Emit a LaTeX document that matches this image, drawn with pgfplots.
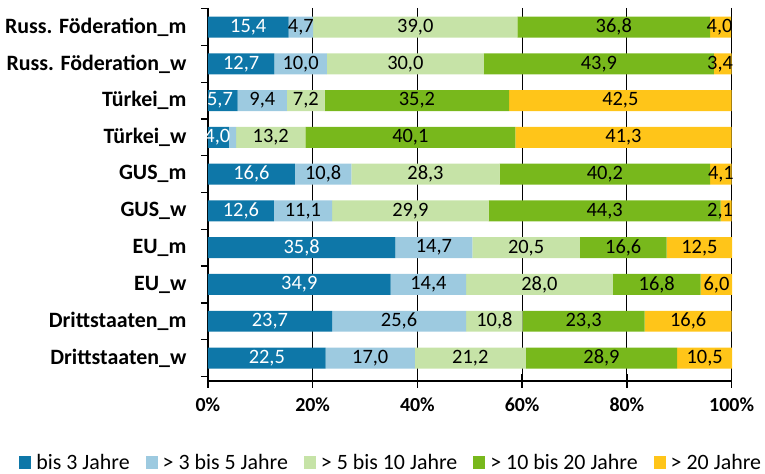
\documentclass[border=0pt]{standalone}
\usepackage{fontspec}
\setmainfont{Carlito}
\usepackage{pgfplots}
\pgfplotsset{compat=1.18}
\definecolor{c1}{HTML}{0E77A8}
\definecolor{c2}{HTML}{9DCAE0}
\definecolor{c3}{HTML}{C6E3A7}
\definecolor{c4}{HTML}{78B81C}
\definecolor{c5}{HTML}{FFC519}
\pgfplotsset{
  frame/.style={at={(0,0)}, anchor=south west, scale only axis,
    width=524bp, height=373bp, xmin=0, xmax=100,
    ymin=-0.52, ymax=9.62, y dir=reverse, clip=false,
    /pgf/number format/assume math mode=true},
  lbl/.style={draw=none, mark=none, forget plot, point meta=explicit,
    nodes near coords={\pgfmathprintnumber[use comma,fixed,fixed zerofill,precision=1]{\pgfplotspointmeta}},
    every node near coord/.append style={anchor=center, font=\fontsize{20.5}{22}\selectfont}},
}
\begin{document}
\begin{tikzpicture}
\begin{axis}[
  frame,
  xbar stacked, bar width=21bp,
  axis x line*=bottom, axis y line*=left,
  axis line style={line width=1.6bp},
  xtick={0,20,...,100},
  xticklabel={\bfseries\pgfmathprintnumber{\tick}\%},
  x tick label style={font=\fontsize{20}{22}\selectfont, yshift=-6bp},
  xtick align=center,
  major x tick style={line width=1.4bp, black},
  major tick length=14bp,
  xmajorgrids, major x grid style={line width=1.2bp, black},
  ytick={0,...,9},
  yticklabels={Russ. Föderation\_m, Russ. Föderation\_w, Türkei\_m, Türkei\_w, GUS\_m, GUS\_w, EU\_m, EU\_w, Drittstaaten\_m, Drittstaaten\_w},
  y tick label style={font=\fontsize{22}{24}\selectfont\bfseries, xshift=-4bp},
  major y tick style={draw=none},
  minor ytick={-0.5,0.5,...,9.5},
  minor y tick style={line width=1.4bp, black},
  minor tick length=7bp,
  ytick align=outside,
  legend columns=5,
  legend style={at={(0.349,-0.2185)}, anchor=center, draw=none,
    font=\fontsize{22}{24}\selectfont, nodes={inner sep=1bp},
    /tikz/every odd column/.append style={column sep=4bp},
    /tikz/every even column/.append style={column sep=15bp}},
  legend image code/.code={\fill[#1] (0bp,-6.5bp) rectangle (12bp,6.5bp);},
]
\addplot[fill=c1, draw=none] coordinates {
  (15.4,0) (12.7,1) (5.7,2) (4.0,3) (16.6,4) (12.6,5) (35.8,6) (34.9,7) (23.7,8) (22.5,9)};
\addplot[fill=c2, draw=none] coordinates {
  (4.7,0) (10.0,1) (9.4,2) (1.4,3) (10.8,4) (11.1,5) (14.7,6) (14.4,7) (25.6,8) (17.0,9)};
\addplot[fill=c3, draw=none] coordinates {
  (39.0,0) (30.0,1) (7.2,2) (13.2,3) (28.3,4) (29.9,5) (20.5,6) (28.0,7) (10.8,8) (21.2,9)};
\addplot[fill=c4, draw=none] coordinates {
  (36.8,0) (43.9,1) (35.2,2) (40.1,3) (40.2,4) (44.3,5) (16.6,6) (16.8,7) (23.3,8) (28.9,9)};
\addplot[fill=c5, draw=none] coordinates {
  (4.0,0) (3.4,1) (42.5,2) (41.3,3) (4.1,4) (2.1,5) (12.5,6) (6.0,7) (16.6,8) (10.5,9)};
\legend{bis 3 Jahre, > 3 bis 5 Jahre, > 5 bis 10 Jahre, > 10 bis 20 Jahre, > 20 Jahre}
\end{axis}
% value labels at the middle of each segment
\begin{axis}[frame, hide axis]
\addplot[lbl, every node near coord/.append style={text=white}] coordinates {
  (7.7,0) [15.4] (6.35,1) [12.7] (2.3,2) [5.7] (1.8,3) [4.0] (8.3,4) [16.6]
  (6.3,5) [12.6] (17.9,6) [35.8] (17.45,7) [34.9] (11.85,8) [23.7] (11.25,9) [22.5]};
\addplot[lbl] coordinates {
  (17.75,0) [4.7] (17.7,1) [10.0] (10.4,2) [9.4] (22.0,4) [10.8]
  (18.15,5) [11.1] (43.15,6) [14.7] (42.1,7) [14.4] (36.5,8) [25.6] (31.0,9) [17.0]};
\addplot[lbl] coordinates {
  (39.6,0) [39.0] (37.7,1) [30.0] (18.7,2) [7.2] (12.0,3) [13.2] (41.55,4) [28.3]
  (38.65,5) [29.9] (60.75,6) [20.5] (63.3,7) [28.0] (54.7,8) [10.8] (50.1,9) [21.2]};
\addplot[lbl] coordinates {
  (77.5,0) [36.8] (74.65,1) [43.9] (39.9,2) [35.2] (38.65,3) [40.1] (75.8,4) [40.2]
  (75.75,5) [44.3] (79.3,6) [16.6] (85.7,7) [16.8] (71.75,8) [23.3] (75.15,9) [28.9]};
\addplot[lbl] coordinates {
  (97.7,0) [4.0] (97.8,1) [3.4] (78.75,2) [42.5] (79.35,3) [41.3] (97.95,4) [4.1]
  (97.8,5) [2.1] (93.85,6) [12.5] (97.1,7) [6.0] (91.7,8) [16.6] (94.85,9) [10.5]};
\end{axis}
\path (-208bp,-93bp) rectangle (557bp,381bp);
\end{tikzpicture}
\end{document}
